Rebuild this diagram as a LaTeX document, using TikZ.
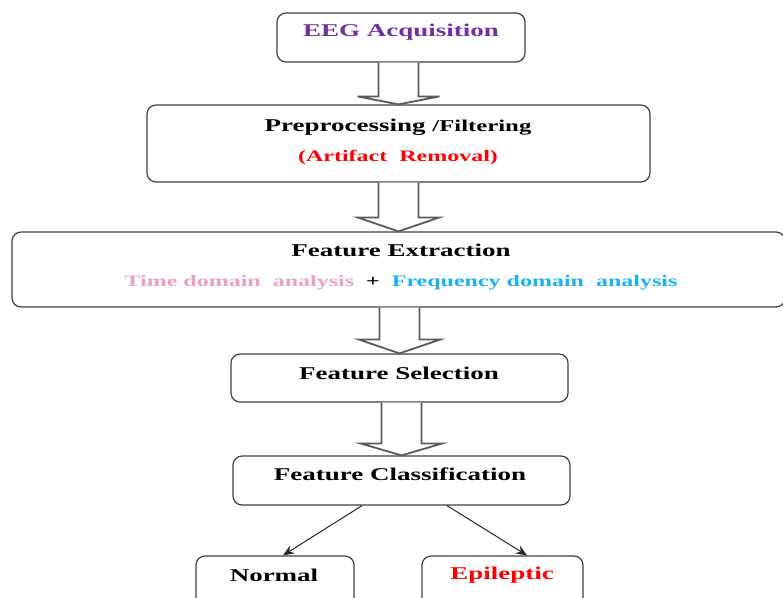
\documentclass[tikz,border=0pt]{standalone}
\usepackage{fontspec}
\setmainfont{Liberation Serif}[FakeStretch=1.5]
\usetikzlibrary{calc,arrows.meta}

\definecolor{eegpurple}{HTML}{7030A0}
\definecolor{timepink}{HTML}{E8A2C8}
\definecolor{freqblue}{HTML}{1AB2F0}
\definecolor{outline}{HTML}{404040}
\definecolor{arrowgray}{HTML}{5A5A5A}

\tikzset{
  stagebox/.style={draw=outline, line width=1.2pt, rounded corners=9pt,
    fill=white, inner sep=0pt},
  title/.style={font=\fontsize{18}{20}\selectfont\bfseries, inner sep=0pt},
  subtitle/.style={font=\fontsize{16}{18}\selectfont\bfseries, inner sep=0pt},
  hollow/.style={draw=arrowgray, line width=1.8pt, line join=miter, fill=white},
  branch/.style={draw=black!85, line width=1pt, -{Stealth[length=11pt,width=9pt]}}
}

% open block arrow from the bottom of #1 to the top of #2, head length #3
\newcommand{\hollowarrow}[3]{%
  \draw[hollow]
    ($(#2.north |- #1.south)+(-20,0)$) -- ($(#2.north)+(-20,-#3)$)
    -- ($(#2.north)+(-41,-#3)$) -- (#2.north)
    -- ($(#2.north)+(41,-#3)$) -- ($(#2.north)+(20,-#3)$)
    -- ($(#2.north |- #1.south)+(20,0)$);
}

\begin{document}
\begin{tikzpicture}[x=1pt, y=-1pt]
  \useasboundingbox (0,0) rectangle (783,597);
  \clip (0,0) rectangle (783,597);

  % stage boxes
  \node[stagebox, minimum width=248pt, minimum height=49pt] (eeg) at (401,37.5) {};
  \node[stagebox, minimum width=503pt, minimum height=77pt] (pre) at (398.5,143.5) {};
  \node[stagebox, minimum width=773pt, minimum height=75pt] (fe) at (398.5,269.5) {};
  \node[stagebox, minimum width=337pt, minimum height=48pt] (fs) at (399.5,378) {};
  \node[stagebox, minimum width=337pt, minimum height=49pt] (fc) at (401.5,480.5) {};
  \node[stagebox, minimum width=158pt, minimum height=64pt] (normal) at (275,588) {};
  \node[stagebox, minimum width=161pt, minimum height=64pt] (epi) at (502.5,588) {};

  % labels
  \node[title, text=eegpurple] (eegtxt) at (401,32) {EEG Acquisition};
  \node[title] (pretxt) at (398,127) {Preprocessing {\fontsize{16.5}{18}\selectfont/Filtering}};
  \node[subtitle, text=red] (presub) at (398,158) {(Artifact\ \ Removal)};
  \node[title] (fetxt) at (401,250) {Feature Extraction};
  \node[subtitle] (fesub) at (401,283)
    {{\color{timepink}Time domain\ \ analysis}\ \ +\ \ {\color{freqblue}Frequency domain\ \ analysis}};
  \node[title] (fstxt) at (399,373) {Feature Selection};
  \node[title] (fctxt) at (400,474) {Feature Classification};
  \node[title] (normaltxt) at (274,575) {Normal};
  \node[title, text=red] (epitxt) at (502,575) {Epileptic};

  % block arrows between stages
  \hollowarrow{eeg}{pre}{8}
  \hollowarrow{pre}{fe}{14}
  \hollowarrow{fe}{fs}{14}
  \hollowarrow{fs}{fc}{12}

  % classification branches
  \draw[branch] ($(fc.south)+(-39.5,0)$) -- ($(normal.north)+(8,0)$);
  \draw[branch] ($(fc.south)+(45.5,0)$) -- ($(epi.north)+(24.5,0)$);
\end{tikzpicture}
\end{document}
